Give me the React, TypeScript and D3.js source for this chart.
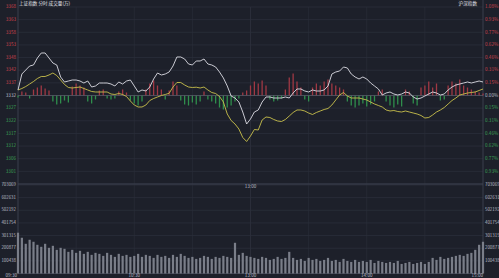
import React, { useEffect } from 'react';
import * as d3 from 'd3';

// ---- data ----
const PRE_CLOSE = 3332.19;
const PCT_STEP = 0.1545; // % per grid row
const GRID_ROWS = 7;
const STEP_MIN = 2; // minutes between samples
const TOTAL_MIN = 240;

const priceLine = [
  3334.43, 3340.94, 3342.57, 3344.2, 3344.61, 3347.46, 3349.5, 3349.5, 3347.46, 3345.42,
  3344.61, 3339.72, 3337.69, 3338.09, 3338.5, 3338.5, 3338.09, 3337.28, 3338.09, 3335.65,
  3336.06, 3337.28, 3337.28, 3337.28, 3336.87, 3336.06, 3337.69, 3336.87, 3338.09, 3338.5,
  3336.06, 3333.62, 3334.43, 3334.02, 3335.65, 3338.91, 3341.35, 3340.54, 3340.94, 3341.76,
  3344.2, 3347.87, 3347.87, 3347.05, 3345.02, 3344.61, 3346.24, 3346.24, 3347.05, 3345.02,
  3344.61, 3343.8, 3341.76, 3339.32, 3336.06, 3331.99, 3331.17, 3329.54, 3325.47, 3320.58,
  3322.62, 3325.47, 3326.29, 3329.54, 3331.58, 3331.58, 3331.17, 3331.17, 3331.17, 3331.58,
  3331.17, 3333.21, 3334.84, 3334.84, 3334.02, 3333.62, 3334.43, 3334.02, 3334.02, 3334.43,
  3336.06, 3340.94, 3341.76, 3342.17, 3343.8, 3343.39, 3340.94, 3339.72, 3338.91, 3339.72,
  3338.91, 3337.28, 3336.06, 3334.84, 3332.39, 3333.21, 3333.62, 3332.8, 3332.39, 3332.8,
  3333.62, 3333.21, 3331.58, 3330.76, 3331.17, 3331.99, 3332.8, 3333.62, 3333.21, 3332.39,
  3332.8, 3334.43, 3335.65, 3336.47, 3336.87, 3337.28, 3337.69, 3337.28, 3337.69, 3338.09,
  3337.69,
];

const avgLine = [
  3334.43, 3335.04, 3335.85, 3336.87, 3337.89, 3339.11, 3339.93, 3339.93, 3340.54, 3341.35,
  3340.33, 3338.5, 3336.67, 3335.45, 3335.24, 3335.45, 3335.65, 3335.04, 3334.43, 3333.82,
  3333.62, 3333.62, 3333.62, 3333.62, 3332.8, 3332.6, 3333.0, 3332.6, 3331.78, 3329.95,
  3328.32, 3327.51, 3327.51, 3328.32, 3330.15, 3330.97, 3331.58, 3332.19, 3332.6, 3333.09,
  3335.65, 3337.48, 3337.48, 3336.47, 3335.65, 3335.45, 3335.57, 3335.24, 3335.65, 3334.43,
  3333.41, 3333.0, 3331.78, 3329.54, 3324.66, 3322.01, 3320.58, 3318.55, 3315.09, 3313.46,
  3315.7, 3318.35, 3318.14, 3322.21, 3323.44, 3323.23, 3322.42, 3321.81, 3321.6, 3322.42,
  3323.84, 3325.27, 3326.29, 3326.29, 3325.88, 3325.06, 3324.45, 3325.27, 3325.88, 3326.49,
  3326.9, 3328.32, 3330.36, 3332.39, 3333.41, 3331.99, 3331.17, 3331.17, 3331.17, 3330.76,
  3330.36, 3329.54, 3328.73, 3328.12, 3327.51, 3326.29, 3325.88, 3326.08, 3325.67, 3325.47,
  3325.88, 3325.47, 3325.06, 3324.66, 3324.05, 3323.03, 3323.23, 3324.25, 3325.47, 3326.29,
  3327.3, 3328.73, 3330.15, 3331.17, 3332.39, 3332.8, 3333.21, 3333.41, 3333.62, 3334.23,
  3334.84,
];

const flowBars = [
  -2, 4, 3, -3, 6, 8, 10, 7, 5, -6, -9, -8, -5, -7, 9, 12, 10, 8, -6, -8,
  -4, 5, 6, -3, -4, -3, 4, 6, 3, -5, -8, -10, -6, 6, 12, 15, 10, 6, -4, 5,
  14, 10, -5, -9, -10, -7, -9, -6, 4, -4, -6, -8, -12, -14, -12, -10, -6, -3, 3, 5,
  10, 14, 12, 15, 10, -4, -6, -5, -3, 6, 18, 22, 14, 8, -4, -6, 8, 12, 10, 14,
  16, 12, 10, 8, 6, -6, -10, -12, -10, -8, -11, -9, -6, 4, 6, -6, -10, -12, -9, -11,
  6, 4, -8, -10, 8, 10, 14, 8, 12, -5, -4, 10, 14, 12, 16, 10, 8, 6, 4, 3,
  2,
];

const volumes = [
  324000, 284000, 236000, 268000, 252000, 228000, 212000, 236000, 204000, 220000,
  188000, 204000, 196000, 172000, 188000, 164000, 180000, 156000, 172000, 148000,
  164000, 156000, 140000, 164000, 148000, 132000, 156000, 140000, 148000, 132000,
  140000, 156000, 132000, 148000, 140000, 124000, 148000, 132000, 140000, 124000,
  148000, 132000, 156000, 140000, 124000, 132000, 116000, 124000, 140000, 132000,
  116000, 132000, 124000, 140000, 132000, 124000, 244000, 148000, 164000, 140000,
  132000, 124000, 116000, 132000, 124000, 108000, 116000, 132000, 116000, 124000,
  172000, 124000, 108000, 116000, 100000, 124000, 108000, 116000, 100000, 108000,
  124000, 100000, 108000, 92000, 116000, 100000, 92000, 108000, 92000, 100000,
  92000, 108000, 84000, 100000, 92000, 84000, 92000, 84000, 100000, 76000,
  84000, 92000, 76000, 84000, 92000, 76000, 92000, 124000, 108000, 132000,
  116000, 124000, 132000, 140000, 148000, 140000, 156000, 164000, 188000, 228000,
  252000,
];

const volumeTicks = [100438, 200877, 301315, 401754, 502192, 602631, 703069];
const timeLabels = ['09:30', '10:30', '13:00', '14:00', '15:00'];
const timeLabelMinutes = [0, 60, 120, 180, 240];
const headerLeft = ['上证指数', '分时', '成交量(万)'];
const headerRight = '沪深指数';

// ---- layout ----
const W = 499;
const H = 278;
const X0 = 18;
const X1 = 483;
const P_TOP = 7;
const P_BOT = 184;
const V_TOP = 185;
const V_BOT = 273.5;

const C = {
  bg: '#1d202a',
  grid: '#2b2f3b',
  axis: '#434855',
  white: '#dcdce4',
  yellow: '#c9c14c',
  red: '#a03844',
  green: '#2f8e4c',
  vol: '#7a7e89',
  labRed: '#c9414c',
  labGreen: '#3b9e54',
  labGray: '#b9bcc5',
};
const FONT = '"Noto Sans CJK SC", "Noto Sans", sans-serif';

export default function App() {
  useEffect(() => {
    document.body.style.margin = '0';
    document.body.style.background = C.bg;
  }, []);

  const x = d3.scaleLinear().domain([0, TOTAL_MIN]).range([X0, X1]);
  const maxPct = PCT_STEP * GRID_ROWS;
  const yP = d3
    .scaleLinear()
    .domain([PRE_CLOSE * (1 - maxPct / 100), PRE_CLOSE * (1 + maxPct / 100)])
    .range([P_BOT, P_TOP]);
  const mid = yP(PRE_CLOSE);
  const half = (P_BOT - P_TOP) / 2;
  const yF = d3.scaleLinear().domain([-half, half]).range([P_BOT, P_TOP]);
  const yV = d3.scaleLinear().domain([0, volumeTicks[volumeTicks.length - 1]]).range([V_BOT, V_TOP]);

  const t = (i: number) => i * STEP_MIN;
  const line = d3
    .line<number>()
    .x((_, i) => x(t(i)))
    .y((d) => yP(d));

  const rows = d3.range(-GRID_ROWS, GRID_ROWS + 1);
  const vGrid = d3.range(30, TOTAL_MIN, 30);

  return (
    <svg width={W} height={H} style={{ position: 'absolute', left: 0, top: 0, display: 'block' }} fontFamily={FONT}>
      <rect x={0} y={0} width={W} height={H} fill={C.bg} />
      {/* price grid */}
      {rows.map((k) => {
        const price = PRE_CLOSE * (1 + (k * PCT_STEP) / 100);
        const yy = yP(price);
        return <line key={'g' + k} x1={X0} x2={X1} y1={yy} y2={yy} stroke={C.grid} strokeWidth={0.8} />;
      })}
      {/* volume grid */}
      {volumeTicks.map((v) => (
        <line key={'vg' + v} x1={X0} x2={X1} y1={yV(v)} y2={yV(v)} stroke={C.grid} strokeWidth={0.8} />
      ))}
      {vGrid.map((m) => (
        <line key={'vl' + m} x1={x(m)} x2={x(m)} y1={P_TOP} y2={V_BOT} stroke={C.grid} strokeWidth={m === 120 ? 0.9 : 0.6} />
      ))}
      <line x1={X0} x2={X1} y1={P_BOT} y2={P_BOT} stroke={C.axis} strokeWidth={0.8} />
      <line x1={X0} x2={X1} y1={V_BOT} y2={V_BOT} stroke={C.axis} strokeWidth={0.8} />
      <line x1={X0} x2={X0} y1={0} y2={V_BOT} stroke={C.axis} strokeWidth={0.8} />
      <line x1={X1} x2={X1} y1={0} y2={V_BOT} stroke={C.axis} strokeWidth={0.8} />

      {/* flow bars */}
      {flowBars.map((v, i) => (
        <line
          key={'f' + i}
          x1={x(t(i))}
          x2={x(t(i))}
          y1={yF(0)}
          y2={yF(v)}
          stroke={v >= 0 ? C.red : C.green}
          strokeWidth={1.3}
        />
      ))}
      <line x1={X0} x2={X1} y1={mid} y2={mid} stroke="#5a5f6c" strokeWidth={0.7} />

      {/* lines */}
      <path d={line(avgLine) || ''} fill="none" stroke={C.yellow} strokeWidth={0.9} />
      <path d={line(priceLine) || ''} fill="none" stroke={C.white} strokeWidth={0.9} />

      {/* volume bars */}
      {volumes.map((v, i) => (
        <rect key={'v' + i} x={x(t(i)) - 1.1} y={yV(v)} width={2.2} height={V_BOT - yV(v)} fill={C.vol} />
      ))}

      {/* left / right price labels */}
      {rows.map((k) => {
        if (k === -GRID_ROWS) return null;
        const price = PRE_CLOSE * (1 + (k * PCT_STEP) / 100);
        const yy = yP(price);
        const col = k > 0 ? C.labRed : k < 0 ? C.labGreen : C.labGray;
        return (
          <g key={'l' + k}>
            <text x={16} y={yy} fontSize={4.6} fill={col} textAnchor="end" dominantBaseline="middle">
              {d3.format('.0f')(price)}
            </text>
            <text x={485} y={yy} fontSize={4.6} fill={col} textAnchor="start" dominantBaseline="middle">
              {d3.format('.2f')(Math.abs(k * PCT_STEP)) + '%'}
            </text>
          </g>
        );
      })}
      {/* volume labels */}
      {volumeTicks.map((v) => (
        <g key={'vt' + v}>
          <text x={16} y={yV(v)} fontSize={4.4} fill={C.labGray} textAnchor="end" dominantBaseline="middle">
            {v}
          </text>
          <text x={485} y={yV(v)} fontSize={4.4} fill={C.labGray} textAnchor="start" dominantBaseline="middle">
            {v}
          </text>
        </g>
      ))}
      {/* time labels */}
      {timeLabels.map((s, i) => {
        const m = timeLabelMinutes[i];
        const anchor = i === 0 ? 'end' : i === timeLabels.length - 1 ? 'end' : 'middle';
        const xx = i === 0 ? X0 - 1 : x(m);
        return (
          <text key={'tl' + s} x={xx} y={276} fontSize={4.6} fill={C.labGray} textAnchor={anchor} dominantBaseline="middle">
            {s}
          </text>
        );
      })}
      <text x={x(120)} y={187} fontSize={4.6} fill={C.labGray} textAnchor="middle" dominantBaseline="middle">
        13:00
      </text>

      {/* headers */}
      <text x={19} y={4.2} fontSize={4.6} fill="#e6e6ee" dominantBaseline="middle">
        {headerLeft.join('  ')}
      </text>
      <text x={477} y={4.2} fontSize={4.6} fill="#e6e6ee" textAnchor="end" dominantBaseline="middle">
        {headerRight}
      </text>
    </svg>
  );
}
